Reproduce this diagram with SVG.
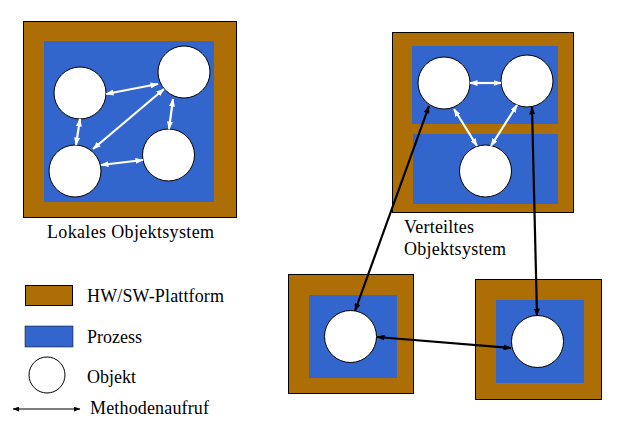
<svg xmlns="http://www.w3.org/2000/svg" width="627" height="431" viewBox="0 0 627 431">
<style>
.plat{fill:#AD6E05;stroke:#000;stroke-width:1}
.proc{fill:#3366CC}
.obj{fill:#fff;stroke:#000;stroke-width:1}
.wa{stroke:#fff;stroke-width:2.2;fill:none;marker-start:url(#wh);marker-end:url(#wh)}
.ba{stroke:#000;stroke-width:2.2;fill:none;marker-start:url(#bh);marker-end:url(#bh)}
.la{stroke:#000;stroke-width:1.2;fill:none;marker-start:url(#lh);marker-end:url(#lh)}
text{font-family:"Liberation Serif","Times New Roman",serif;font-size:18px;fill:#000}
</style>
<defs>
<marker id="wh" viewBox="0 0 8 6" refX="7.5" refY="3" markerWidth="8" markerHeight="6" markerUnits="userSpaceOnUse" orient="auto-start-reverse"><path d="M0,0 L8,3 L0,6 z" fill="#fff"/></marker>
<marker id="bh" viewBox="0 0 8 6" refX="7.5" refY="3" markerWidth="8" markerHeight="6" markerUnits="userSpaceOnUse" orient="auto-start-reverse"><path d="M0,0 L8,3 L0,6 z" fill="#000"/></marker>
<marker id="lh" viewBox="0 0 8 6" refX="7.5" refY="3" markerWidth="7" markerHeight="5" markerUnits="userSpaceOnUse" orient="auto-start-reverse"><path d="M0,0 L8,3 L0,6 z" fill="#000"/></marker>
</defs>
<g id="lokal">
<rect class="plat" x="23.5" y="21.5" width="213" height="196"/>
<rect class="proc" x="44" y="41" width="170" height="161"/>
<circle class="obj" cx="80" cy="93" r="26"/>
<circle class="obj" cx="184" cy="72" r="26"/>
<circle class="obj" cx="75" cy="171" r="26"/>
<circle class="obj" cx="168.5" cy="155" r="26"/>
<text x="47" y="238" textLength="167" lengthAdjust="spacing">Lokales Objektsystem</text>
</g>
<g id="verteilt">
<rect class="plat" x="392.5" y="32.5" width="181" height="180"/>
<rect class="proc" x="412" y="46" width="146" height="78"/>
<rect class="proc" x="413" y="134" width="145" height="70"/>
<circle class="obj" cx="444" cy="83" r="26"/>
<circle class="obj" cx="527" cy="81" r="26"/>
<circle class="obj" cx="485.5" cy="171" r="26"/>
<text x="404" y="233" textLength="70" lengthAdjust="spacing">Verteiltes</text>
<text x="404" y="255" textLength="102" lengthAdjust="spacing">Objektsystem</text>
</g>
<g id="knoten1">
<rect class="plat" x="288.5" y="274.5" width="125" height="119"/>
<rect class="proc" x="309" y="295" width="88" height="83"/>
<circle class="obj" cx="350.5" cy="336.5" r="26"/>
</g>
<g id="knoten2">
<rect class="plat" x="475.5" y="279.5" width="126" height="120"/>
<rect class="proc" x="496" y="300" width="88" height="83"/>
<circle class="obj" cx="537.5" cy="341.5" r="26"/>
</g>
<g id="connectors">
<line class="wa" x1="106" y1="94" x2="158" y2="84"/>
<line class="wa" x1="80" y1="119" x2="76" y2="145"/>
<line class="wa" x1="164" y1="89" x2="93" y2="149"/>
<line class="wa" x1="173" y1="99" x2="169" y2="129"/>
<line class="wa" x1="101" y1="165" x2="143" y2="160"/>
<line class="wa" x1="470" y1="83" x2="501" y2="83"/>
<line class="wa" x1="454" y1="109" x2="477" y2="146"/>
<line class="wa" x1="517" y1="105" x2="491" y2="146"/>
<line class="ba" x1="429" y1="106" x2="355" y2="311"/>
<line class="ba" x1="532" y1="107" x2="537" y2="316"/>
<line class="ba" x1="377" y1="337" x2="511" y2="348"/>
</g>
<g id="legende">
<rect class="plat" x="25.5" y="285.5" width="47" height="20"/>
<rect class="proc" x="25" y="326" width="48" height="21" stroke="#000" stroke-width="0.5"/>
<circle class="obj" cx="47" cy="375" r="18"/>
<line class="la" x1="13" y1="409" x2="80" y2="409"/>
<text x="87" y="302" textLength="137" lengthAdjust="spacing">HW/SW-Plattform</text>
<text x="87" y="343">Prozess</text>
<text x="87" y="383">Objekt</text>
<text x="90" y="414" textLength="119" lengthAdjust="spacing">Methodenaufruf</text>
</g>
</svg>
